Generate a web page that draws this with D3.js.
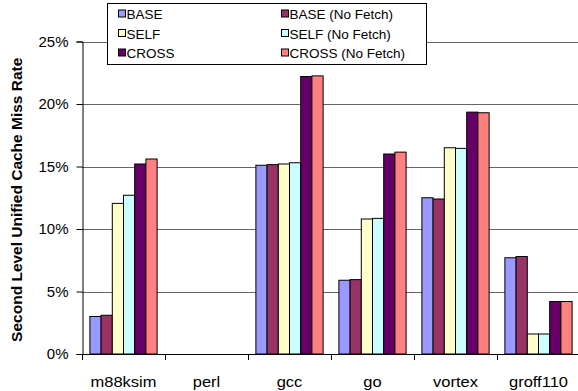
<!DOCTYPE html>
<html>
<head>
<meta charset="utf-8">
<script src="https://cdn.jsdelivr.net/npm/d3@7"></script>
<style>
  body { margin: 0; background: #fff; }
  text { font-family: "Liberation Sans", Arial, sans-serif; }
</style>
</head>
<body>
<svg class="chart" width="578" height="391"></svg>
<script>
// benchmarks along the x axis
let categories = ["m88ksim", "perl", "gcc", "go", "vortex", "groff110"];
let seriesNames = ["BASE", "BASE (No Fetch)", "SELF", "SELF (No Fetch)", "CROSS", "CROSS (No Fetch)"];
let seriesColors = ["#9999FF", "#993366", "#FFFFCC", "#CCFFFF", "#660066", "#FF8080"];

// miss rate in %, one list per series (perl has no bars)
let baseValues = [3.0, 0, 15.1, 5.9, 12.5, 7.7];
let baseNoFetchValues = [3.1, 0, 15.15, 5.95, 12.4, 7.8];
let selfValues = [12.05, 0, 15.2, 10.8, 16.5, 1.6];
let selfNoFetchValues = [12.7, 0, 15.3, 10.85, 16.45, 1.6];
let crossValues = [15.2, 0, 22.2, 16.0, 19.35, 4.2];
let crossNoFetchValues = [15.6, 0, 22.25, 16.15, 19.3, 4.2];

let yTicks = [0, 5, 10, 15, 20, 25];

let seriesValues = [baseValues, baseNoFetchValues, selfValues, selfNoFetchValues, crossValues, crossNoFetchValues];

let svg = d3.select(".chart");

let plot = { left: 82, right: 580, top: 41.5, bottom: 354 };

let y = d3.scaleLinear()
    .domain([0, 25])
    .range([plot.bottom, plot.top]);

let x0 = d3.scaleBand()
    .domain(categories)
    .range([plot.left, plot.right])
    .paddingInner(0.19)
    .paddingOuter(0.095);

let x1 = d3.scaleBand()
    .domain(seriesNames)
    .range([0, x0.bandwidth()]);

// Gridlines.
svg.append("g")
    .selectAll("line")
    .data(yTicks.filter(d => d > 0))
    .join("line")
    .attr("x1", plot.left)
    .attr("x2", plot.right)
    .attr("y1", d => Math.round(y(d)) + 0.5)
    .attr("y2", d => Math.round(y(d)) + 0.5)
    .attr("stroke", "#666")
    .attr("stroke-width", 1);

// Y axis.
let yAxis = svg.append("g")
    .attr("transform", "translate(" + (plot.left + 0.5) + ",0)")
    .call(d3.axisLeft(y).tickValues(yTicks).tickFormat(d => d + "%").tickSize(6).tickPadding(8));
yAxis.select(".domain").attr("stroke", "#000");
yAxis.selectAll(".tick line").attr("stroke", "#000");
yAxis.selectAll("text")
    .attr("font-family", "Liberation Sans, Arial, sans-serif")
    .attr("font-size", 15)
    .attr("fill", "#000");

// X axis: ticks between categories.
let boundaries = d3.range(categories.length + 1).map(i => plot.left + i * x0.step());
svg.append("line")
    .attr("x1", plot.left)
    .attr("x2", plot.right)
    .attr("y1", plot.bottom + 0.5)
    .attr("y2", plot.bottom + 0.5)
    .attr("stroke", "#000");
svg.append("g")
    .selectAll("line")
    .data(boundaries)
    .join("line")
    .attr("x1", d => Math.round(d) + 0.5)
    .attr("x2", d => Math.round(d) + 0.5)
    .attr("y1", plot.bottom)
    .attr("y2", plot.bottom + 6)
    .attr("stroke", "#000");
svg.append("g")
    .selectAll("text")
    .data(categories)
    .join("text")
    .attr("transform", d => "translate(" + (x0(d) + x0.bandwidth() / 2) + ",386.5) scale(1.1,1)")
    .attr("text-anchor", "middle")
    .attr("font-size", 15)
    .text(d => d);

// Bars.
categories.forEach((cat, ci) => {
    seriesNames.forEach((name, si) => {
        let v = seriesValues[si][ci];
        if (v <= 0) return;
        svg.append("rect")
            .attr("x", x0(cat) + x1(name))
            .attr("y", y(v))
            .attr("width", x1.bandwidth())
            .attr("height", y(0) - y(v))
            .attr("fill", seriesColors[si])
            .attr("stroke", "#000")
            .attr("stroke-width", 1);
    });
});

// Y axis title.
svg.append("text")
    .attr("transform", "translate(22," + ((plot.top + plot.bottom) / 2 + 2) + ") rotate(-90)")
    .attr("text-anchor", "middle")
    .attr("font-size", 15.5)
    .attr("font-weight", "bold")
    .text("Second Level Unified Cache Miss Rate");

// Legend.
let legend = svg.append("g");
legend.append("rect")
    .attr("x", 107.5)
    .attr("y", 3.5)
    .attr("width", 319)
    .attr("height", 61)
    .attr("fill", "#fff")
    .attr("stroke", "#000");
seriesNames.forEach((name, i) => {
    let col = i % 2, row = Math.floor(i / 2);
    let lx = col === 0 ? 118.5 : 281.5;
    let ly = 14 + row * 19.5;
    legend.append("rect")
        .attr("x", lx)
        .attr("y", ly - 4)
        .attr("width", 7)
        .attr("height", 7)
        .attr("fill", seriesColors[i])
        .attr("stroke", "#000");
    legend.append("text")
        .attr("x", lx + 8)
        .attr("y", ly + 5)
        .attr("font-size", 13.5)
        .text(name);
});
</script>
</body>
</html>
